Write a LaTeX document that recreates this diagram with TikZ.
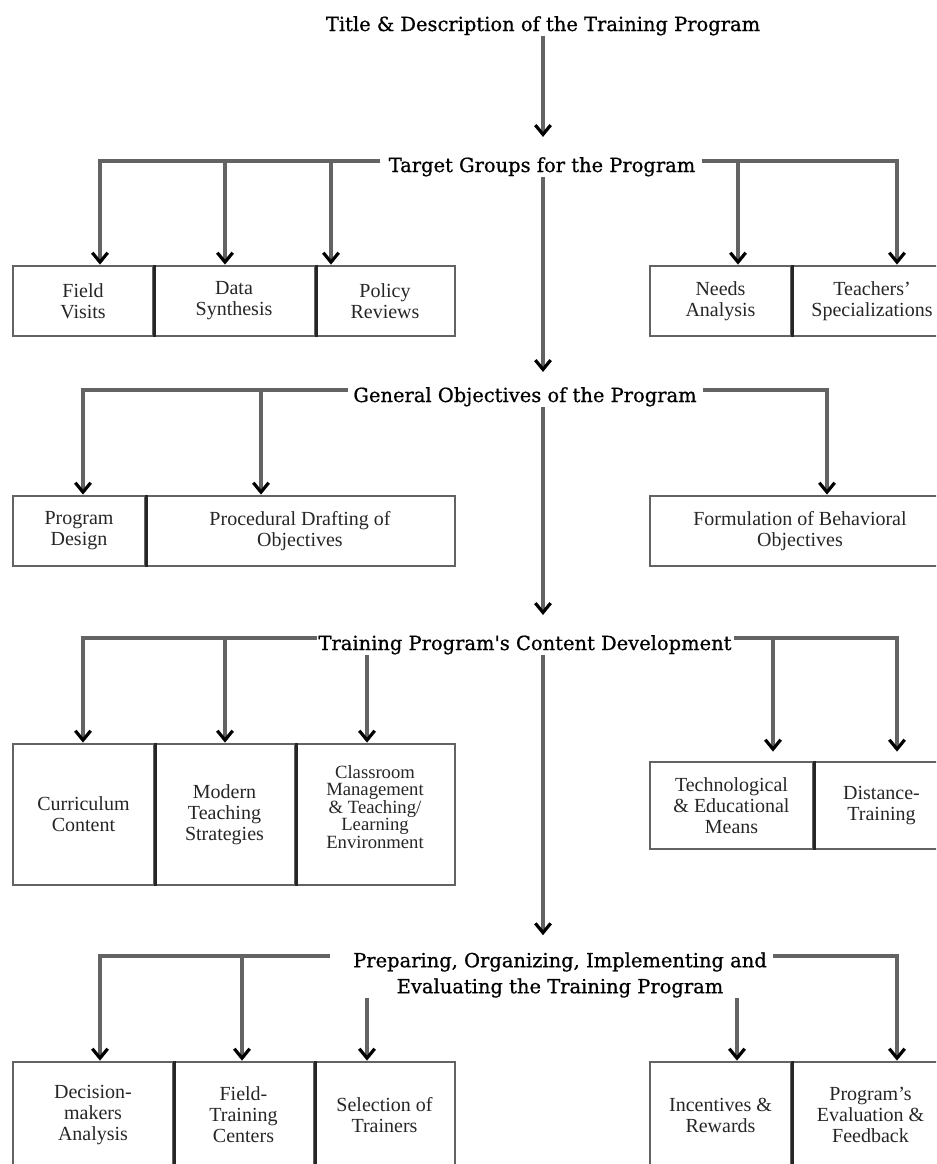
\documentclass[tikz,border=0pt]{standalone}
\usepackage{fontspec}
\setmainfont{Liberation Serif}
\newfontfamily\hfont[FakeBold=0.8]{DejaVu Serif}
\usetikzlibrary{arrows.meta,calc}
\definecolor{lg}{HTML}{636363}
\definecolor{dk}{HTML}{262626}
\tikzset{
  ln/.style={draw=lg, line width=2.3pt},
  arr/.style={ln, -{Straight Barb[length=7pt,width=11.5pt,line width=2.4pt,color=black]}},
  head/.style={font=\hfont\fontsize{14.6}{19.5}\selectfont, inner sep=0pt, align=center, text=black},
  box/.style={draw=lg, line width=2.1pt, inner sep=0pt, align=center, font=\fontsize{15}{15.75}\selectfont, text=dk},
  boxtext/.style={inner sep=0pt, align=center, text=dk},
  tight/.style={font=\fontsize{14}{13.2}\selectfont},
  divider/.style={draw=dk, line width=1.9pt},
}
\newcommand\bx[7][]{\node[box,#1, minimum width={(#5-#3)*0.75pt}, minimum height={(#6-#4)*0.75pt}] (#2) at ({(#3+#5)/2},{(#4+#6)/2}) {#7};}
\begin{document}
\begin{tikzpicture}[x=0.75pt,y=-0.75pt]
\useasboundingbox (0,0) rectangle (936,1164);
\clip (0,0) rectangle (936,1164);
\coordinate (cx) at (543,0);
% headings
\node[head, anchor=base] (title) at (543,31) {Title \& Description of the Training Program};
\node[head, anchor=base] (h1) at (542,172) {Target Groups for the Program};
\node[head, anchor=base] (h2) at (525,402) {General Objectives of the Program};
\node[head, anchor=base] (h3) at (525,650) {Training Program's Content Development};
\node[head] (h4) at (560,975) {Preparing, Organizing, Implementing and\\Evaluating the Training Program};
\coordinate (y1) at (0,161);
\coordinate (y2) at (0,390);
\coordinate (y3) at (0,638);
\coordinate (y4) at (0,956);
% row 1 boxes
\bx{fv}{13}{266}{153}{336}{Field\\Visits}
\bx{ds}{153}{266}{315}{336}{Data\\Synthesis}
\bx{pr}{315}{266}{455}{336}{Policy\\Reviews}
\bx{na}{650}{266}{791}{336}{Needs\\Analysis}
\bx{ts}{791}{266}{953}{336}{Teachers'\\Specializations}
% row 2 boxes
\bx{pd}{13}{496}{145}{566}{Program\\Design}
\bx{pdo}{145}{496}{455}{566}{Procedural Drafting of\\Objectives}
\bx{fbo}{650}{496}{950}{566}{Formulation of Behavioral\\Objectives}
% row 3 boxes
\bx{cc}{13}{744}{154}{885}{Curriculum\\Content}
\bx{mts}{154}{744}{295}{885}{Modern\\Teaching\\Strategies}
\bx{cm}{295}{744}{455}{885}{}
\node[boxtext, tight] (cmt) at (375,807) {Classroom\\Management\\\& Teaching/\\Learning\\Environment};
\bx{tem}{650}{762}{813}{849}{Technological\\\& Educational\\Means}
\bx{dt}{813}{762}{950}{849}{Distance-\\Training}
% row 4 boxes
\bx{dma}{13}{1062}{173}{1168}{Decision-\\makers\\Analysis}
\bx{ftc}{173}{1062}{314}{1168}{Field-\\Training\\Centers}
\bx{st}{314}{1062}{455}{1168}{Selection of\\Trainers}
\bx{ir}{650}{1062}{791}{1168}{Incentives \&\\Rewards}
\bx{pef}{791}{1062}{950}{1168}{Program's\\Evaluation \&\\Feedback}
% dividers
\draw[divider] (fv.north east) -- (fv.south east);
\draw[divider] (ds.north east) -- (ds.south east);
\draw[divider] (na.north east) -- (na.south east);
\draw[divider] (pd.north east) -- (pd.south east);
\draw[divider] (cc.north east) -- (cc.south east);
\draw[divider] (mts.north east) -- (mts.south east);
\draw[divider] (tem.north east) -- (tem.south east);
\draw[divider] (dma.north east) -- (dma.south east);
\draw[divider] (ftc.north east) -- (ftc.south east);
\draw[divider] (ir.north east) -- (ir.south east);
% central spine
\draw[arr] (title.south -| cx) -- ($(h1.north -| cx)+(0,-20)$);
\draw[arr] (h1.south -| cx) -- ($(h2.north -| cx)+(0,-15)$);
\draw[arr] (h2.south -| cx) -- ($(h3.north -| cx)+(0,-20)$);
\draw[arr] (h3.south -| cx) -- ($(h4.north -| cx)+(0,-17)$);
% row 1 branches
\draw[arr] ($(h1.west |- y1)+(-8,0)$) -| (100,0 |- fv.north);
\draw[arr] (225,0 |- y1) -- (225,0 |- ds.north);
\draw[arr] (331,0 |- y1) -- (331,0 |- pr.north);
\draw[arr] ($(h1.east |- y1)+(6,0)$) -| (897,0 |- ts.north);
\draw[arr] (738,0 |- y1) -- (738,0 |- na.north);
% row 2 branches
\draw[arr] ($(h2.west |- y2)+(-5,0)$) -| (83,0 |- pd.north);
\draw[arr] (261,0 |- y2) -- (261,0 |- pdo.north);
\draw[arr] ($(h2.east |- y2)+(6,0)$) -| (827,0 |- fbo.north);
% row 3 branches
\draw[arr] ($(h3.west |- y3)+(-1,0)$) -| (83,0 |- cc.north);
\draw[arr] (225,0 |- y3) -- (225,0 |- mts.north);
\draw[arr] (367,0 |- h3.south) -- (367,0 |- cm.north);
\draw[arr] ($(h3.east |- y3)+(2,0)$) -| ($(897,0 |- dt.north)+(0,-9)$);
\draw[arr] (773,0 |- y3) -- ($(773,0 |- tem.north)+(0,-9)$);
% row 4 branches
\draw[arr] ($(h4.west |- y4)+(-23,0)$) -| (100,0 |- dma.north);
\draw[arr] (242,0 |- y4) -- (242,0 |- ftc.north);
\draw[arr] (367,0 |- h4.south) -- (367,0 |- st.north);
\draw[arr] ($(h4.east |- y4)+(6,0)$) -| (897,0 |- pef.north);
\draw[arr] (737,0 |- h4.south) -- (737,0 |- ir.north);
\end{tikzpicture}
\end{document}
